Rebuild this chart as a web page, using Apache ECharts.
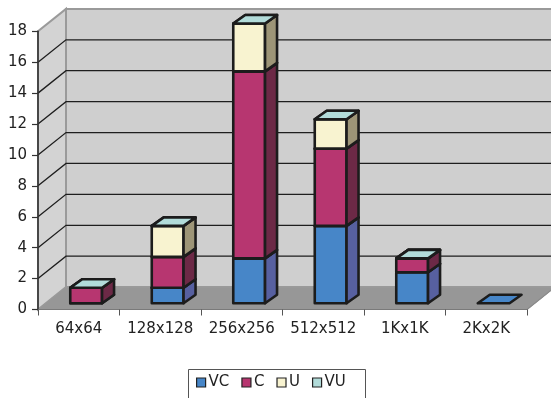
<!DOCTYPE html>
<html>
<head>
<meta charset="utf-8">
<script src="https://cdn.jsdelivr.net/npm/echarts@6/dist/echarts.min.js"></script>
<style>
  html, body { margin: 0; padding: 0; background: #fff; }
  #chart { width: 551px; height: 398px; }
</style>
</head>
<body>
<div id="chart"></div>
<script>
// Image sizes on the category axis
const categories = ['64x64', '128x128', '256x256', '512x512', '1Kx1K', '2Kx2K'];

// Stacked series values (null = nothing drawn for that size)
const seriesNames = ['VC', 'C', 'U', 'VU'];
const vcValues = [0, 1, 2.9, 5, 2, 0];
const cValues  = [1, 2, 12.1, 5, 0.9, null];
const uValues  = [0, 2, 3.1, 1.9, 0, null];
const vuValues = [0, 0, 0, 0, 0, null];

// Value axis ticks
const yTicks = [0, 2, 4, 6, 8, 10, 12, 14, 16, 18];

const FONT = 'DejaVu Sans';

// Oblique depth of the walls and of the bars (pixels)
const WALL_DX = 28, WALL_DY = -22.4;
const BAR_OFF_DX = 7.4, BAR_OFF_DY = -6.3;
const BAR_DX = 12, BAR_DY = -8.5;
const BAR_RATIO = 0.39;

const palette = {
  VC: { front: '#4786c8', side: '#5760a0', top: '#4786c8' },
  C:  { front: '#b73670', side: '#6c2946', top: '#c2527f' },
  U:  { front: '#f8f3d0', side: '#9d9577', top: '#fbf8e2' },
  VU: { front: '#b2dcda', side: '#7fa6a4', top: '#b2dcda' }
};

const allValues = [vcValues, cValues, uValues, vuValues];

// Build [category, base, top] items with cumulative stacking
function stackedData(si) {
  return categories.map((c, i) => {
    const v = allValues[si][i];
    if (v === null || v === undefined) return [i, null, null];
    let base = 0;
    for (let k = 0; k < si; k++) {
      const pv = allValues[k][i];
      if (pv !== null && pv !== undefined) base += pv;
    }
    return [i, base, base + v];
  });
}

const EDGE = '#1c1c1c';

function barRenderer(name) {
  const col = palette[name];
  return function (params, api) {
    const base = api.value(1), top = api.value(2);
    if (base === null || top === null || isNaN(base) || isNaN(top)) return null;
    const cat = api.value(0);
    const p0 = api.coord([cat, base]);
    const p1 = api.coord([cat, top]);
    const w = api.size([1, 0])[0] * BAR_RATIO;
    const xL = p0[0] - w / 2 + BAR_OFF_DX;
    const xR = xL + w;
    const yB = p0[1] + BAR_OFF_DY;
    const yT = p1[1] + BAR_OFF_DY;
    const style = (fill) => ({ fill: fill, stroke: EDGE, lineWidth: 2.6, lineJoin: 'round' });
    const children = [];
    if (yB - yT > 0.5) {
      children.push({
        type: 'polygon',
        shape: { points: [[xL, yB], [xR, yB], [xR, yT], [xL, yT]] },
        style: style(col.front)
      });
      children.push({
        type: 'polygon',
        shape: { points: [[xR, yB], [xR, yT], [xR + BAR_DX, yT + BAR_DY], [xR + BAR_DX, yB + BAR_DY]] },
        style: style(col.side)
      });
    }
    children.push({
      type: 'polygon',
      shape: { points: [[xL, yT], [xR, yT], [xR + BAR_DX, yT + BAR_DY], [xL + BAR_DX, yT + BAR_DY]] },
      style: style(col.top)
    });
    return { type: 'group', children: children };
  };
}

// Walls, floor and the wall gridlines, placed from the value axis
function wallRenderer(params, api) {
  const cs = params.coordSys;
  const v = api.value(1);
  const y = api.coord([0, v])[1];
  const x0 = cs.x, x1 = cs.x + cs.width;
  const children = [];
  if (params.dataIndex === 0) {
    const yTop = cs.y, yBot = cs.y + cs.height;
    // back wall
    children.push({
      type: 'polygon',
      shape: { points: [[x0 + WALL_DX, yBot + WALL_DY], [x0 + WALL_DX, yTop + WALL_DY], [x1 + WALL_DX, yTop + WALL_DY], [x1 + WALL_DX, yBot + WALL_DY]] },
      style: { fill: '#cfcfcf', stroke: '#9a9a9a', lineWidth: 2 }
    });
    // left wall
    children.push({
      type: 'polygon',
      shape: { points: [[x0, yBot], [x0, yTop], [x0 + WALL_DX, yTop + WALL_DY], [x0 + WALL_DX, yBot + WALL_DY]] },
      style: { fill: '#d3d3d3', stroke: '#9a9a9a', lineWidth: 2 }
    });
    // floor
    children.push({
      type: 'polygon',
      shape: { points: [[x0, yBot], [x1, yBot], [x1 + WALL_DX, yBot + WALL_DY], [x0 + WALL_DX, yBot + WALL_DY]] },
      style: { fill: '#979797', stroke: '#9a9a9a', lineWidth: 1 }
    });
    children.push({
      type: 'line',
      shape: { x1: x1, y1: yBot, x2: x1 + WALL_DX, y2: yBot + WALL_DY },
      style: { stroke: '#8a8a8a', lineWidth: 1.2 }
    });
  }
  const yMax = yTicks[yTicks.length - 1];
  if (v > 0 && v < yMax) {
    children.push({
      type: 'polyline',
      shape: { points: [[x0, y], [x0 + WALL_DX, y + WALL_DY], [x1 + WALL_DX, y + WALL_DY]] },
      style: { stroke: '#1e1e1e', lineWidth: 1.3, fill: null }
    });
  }
  return { type: 'group', children: children };
}

const chart = echarts.init(document.getElementById('chart'), null, { renderer: 'canvas' });

const barSeries = seriesNames.map((name, si) => ({
  name: name,
  type: 'custom',
  renderItem: barRenderer(name),
  data: stackedData(si),
  encode: { x: 0, y: [1, 2] },
  itemStyle: { color: palette[name].front, borderColor: EDGE, borderWidth: 1 },
  z: 3,
  silent: true
}));

chart.setOption({
  animation: false,
  backgroundColor: '#ffffff',
  textStyle: { fontFamily: FONT },
  grid: { left: 38, top: 31.3, width: 489, height: 278.2 },
  // legend frame, running past the bottom edge of the page
  graphic: [{
    type: 'rect',
    left: 188,
    top: 369,
    shape: { x: 0, y: 0, width: 177, height: 45 },
    style: { fill: '#fff', stroke: '#555', lineWidth: 1 },
    z: 0
  }],
  xAxis: {
    type: 'category',
    data: categories,
    boundaryGap: true,
    axisLine: { show: true, lineStyle: { color: '#7a7a7a', width: 1.2 } },
    axisTick: { show: true, length: 6, inside: false, interval: 0, lineStyle: { color: '#555', width: 1 } },
    axisLabel: { fontFamily: FONT, fontSize: 15, color: '#222', margin: 12, interval: 0, hideOverlap: false },
    splitLine: { show: false },
    z: 5
  },
  yAxis: {
    type: 'value',
    min: 0,
    max: 18,
    interval: 2,
    axisLine: { show: true, lineStyle: { color: '#333', width: 1.6 } },
    axisTick: { show: true, length: 6, inside: false, lineStyle: { color: '#333', width: 1.2 } },
    axisLabel: { fontFamily: FONT, fontSize: 15, color: '#222', margin: 11 },
    splitLine: { show: false },
    z: 5
  },
  legend: {
    data: seriesNames.map(n => ({
      name: n,
      icon: 'rect',
      itemStyle: { color: palette[n].front, borderColor: '#222', borderWidth: 1.2 }
    })),
    left: 188,
    top: 369,
    orient: 'horizontal',
    itemWidth: 9,
    itemHeight: 9,
    itemGap: 12,
    padding: [6, 8, 6, 8],
    borderWidth: 0,
    selectedMode: false,
    z: 4,
    textStyle: { fontFamily: FONT, fontSize: 15, color: '#222', padding: [0, 0, 0, -2] }
  },
  tooltip: { show: false },
  series: [{
    name: 'walls',
    type: 'custom',
    renderItem: wallRenderer,
    data: yTicks.map(t => [0, t]),
    encode: { x: 0, y: 1 },
    z: 1,
    silent: true
  }].concat(barSeries)
});
</script>
</body>
</html>
